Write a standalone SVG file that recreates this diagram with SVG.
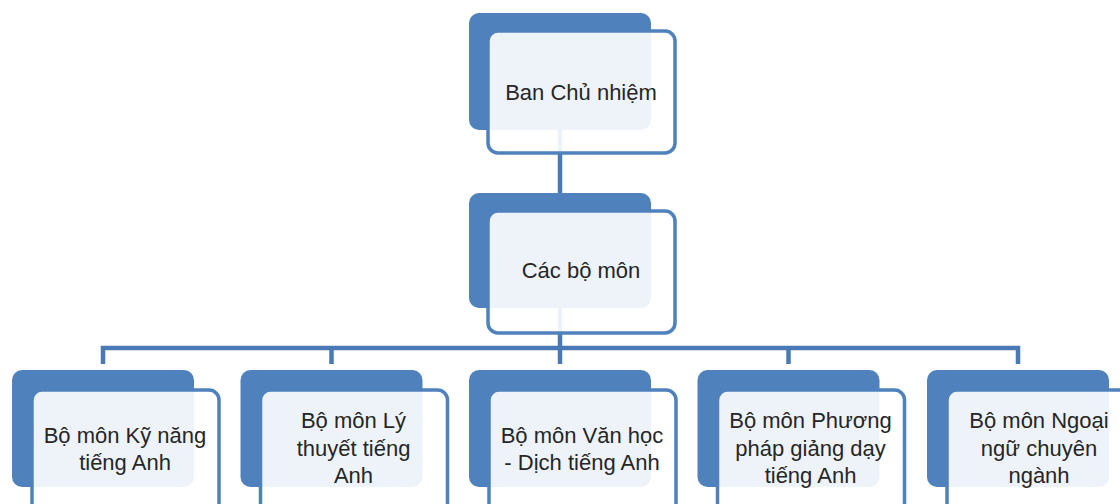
<svg xmlns="http://www.w3.org/2000/svg" width="1120" height="504" viewBox="0 0 1120 504">
<style>
.back{fill:#4F81BD;}
.front{fill:#FFFFFF;fill-opacity:0.9;stroke:#4F81BD;stroke-width:3.5;}
.conn{stroke:#4A7AB5;stroke-width:4.5;fill:none;}
text{font-family:"Liberation Sans",Arial,sans-serif;font-size:22px;fill:#262626;text-anchor:middle;}
</style>
<rect width="1120" height="504" fill="#FFFFFF"/>
<g id="connectors">
<line class="conn" x1="560" y1="128" x2="560" y2="195"/>
<line class="conn" x1="560" y1="306" x2="560" y2="350"/>
<polyline class="conn" points="103,364 103,348 1018,348 1018,364"/>
<line class="conn" x1="331.5" y1="348" x2="331.5" y2="364"/>
<line class="conn" x1="560" y1="348" x2="560" y2="364"/>
<line class="conn" x1="788.5" y1="348" x2="788.5" y2="364"/>
</g>
<g id="node-ban-chu-nhiem">
<rect class="back" x="469" y="13" width="182" height="117" rx="10"/>
<rect class="front" x="488" y="31" width="187" height="122" rx="10"/>
<text x="581" y="100">Ban Chủ nhiệm</text>
</g>
<g id="node-cac-bo-mon">
<rect class="back" x="469" y="193" width="182" height="115" rx="10"/>
<rect class="front" x="488" y="211" width="187" height="122" rx="10"/>
<text x="581" y="278">Các bộ môn</text>
</g>
<g id="node-ky-nang">
<rect class="back" x="12" y="370" width="182" height="117" rx="10"/>
<rect class="front" x="32" y="390" width="187" height="124" rx="10"/>
<text x="125" y="443">Bộ môn Kỹ năng</text>
<text x="125" y="470">tiếng Anh</text>
</g>
<g id="node-ly-thuyet">
<rect class="back" x="240.5" y="370" width="182" height="117" rx="10"/>
<rect class="front" x="260.5" y="390" width="187" height="124" rx="10"/>
<text x="353.5" y="428">Bộ môn Lý</text>
<text x="353.5" y="456">thuyết tiếng</text>
<text x="353.5" y="483">Anh</text>
</g>
<g id="node-van-hoc">
<rect class="back" x="469" y="370" width="182" height="117" rx="10"/>
<rect class="front" x="489" y="390" width="187" height="124" rx="10"/>
<text x="582" y="443">Bộ môn Văn học</text>
<text x="582" y="470">- Dịch tiếng Anh</text>
</g>
<g id="node-phuong-phap">
<rect class="back" x="697.5" y="370" width="182" height="117" rx="10"/>
<rect class="front" x="717.5" y="390" width="187" height="124" rx="10"/>
<text x="810.5" y="428">Bộ môn Phương</text>
<text x="810.5" y="456">pháp giảng dạy</text>
<text x="810.5" y="483">tiếng Anh</text>
</g>
<g id="node-ngoai-ngu">
<rect class="back" x="927" y="370" width="182" height="117" rx="10"/>
<rect class="front" x="947" y="390" width="187" height="124" rx="10"/>
<text x="1039" y="428">Bộ môn Ngoại</text>
<text x="1039" y="456">ngữ chuyên</text>
<text x="1039" y="483">ngành</text>
</g>
</svg>
